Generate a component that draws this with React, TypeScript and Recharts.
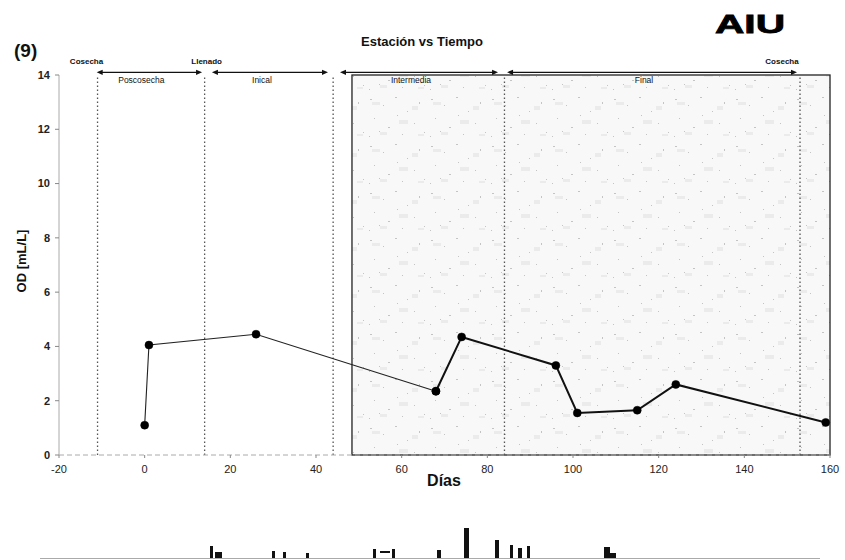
import React from 'react';
import {
  LineChart,
  Line,
  XAxis,
  YAxis,
  ReferenceLine,
  ReferenceArea,
} from 'recharts';

// sampling days and measured OD
const days = [0, 1, 26, 68, 74, 96, 101, 115, 124, 159];
const odValues = [1.1, 4.05, 4.45, 2.35, 4.35, 3.3, 1.55, 1.65, 2.6, 1.2];
// from this day on the trace is drawn heavier
const heavyFrom = 68;

const xTicks = [-20, 0, 20, 40, 60, 80, 100, 120, 140, 160];
const yTicks = [0, 2, 4, 6, 8, 10, 12, 14];

// crop events (dotted verticals)
const eventDays = [-11, 14, 44, 84, 153];
const eventNames = ['Cosecha', 'Llenado', '', '', 'Cosecha'];
const eventLabelShift = [-11, 2, 0, 0, -18];

// station phases (arrows along the top)
const phaseNames = ['Poscosecha', 'Inical', 'Intermedia', 'Final'];
const phaseStarts = [-11.2, 15.7, 45.6, 84.6];
const phaseEnds = [13.4, 42.8, 82.5, 152.3];

// start of the sampled station window (shaded box)
const stationStart = 48.4;

const FONT = '"Liberation Sans", Arial, sans-serif';
const NARROW = '"Liberation Sans Narrow", "Arial Narrow", "Liberation Sans", Arial, sans-serif';

const chartData = days.map((d, i) => ({
  day: d,
  thin: d <= heavyFrom ? odValues[i] : null,
  heavy: d >= heavyFrom ? odValues[i] : null,
}));

const PhaseArrow = (props: any) => {
  const { x1, x2, y1, name } = props;
  const h = 6;
  const w = 2.6;
  return (
    <g>
      <line x1={x1 + 3} y1={y1} x2={x2 - 3} y2={y1} stroke="#111" strokeWidth={1.3} />
      <polygon points={`${x1},${y1} ${x1 + h},${y1 - w} ${x1 + h},${y1 + w}`} fill="#111" />
      <polygon points={`${x2},${y1} ${x2 - h},${y1 - w} ${x2 - h},${y1 + w}`} fill="#111" />
      <text
        x={(x1 + x2) / 2 - 8}
        y={y1 + 11}
        textAnchor="middle"
        fontSize={8.5}
        fontFamily={FONT}
        fill="#111"
        stroke="none"
      >
        {name}
      </text>
    </g>
  );
};

const EventLabel = (props: any) => {
  const { viewBox, text, shift } = props;
  if (!text || !viewBox) return null;
  return (
    <text
      x={viewBox.x + shift}
      y={viewBox.y - 11}
      textAnchor="middle"
      fontSize={8}
      fontWeight="bold"
      fontFamily={FONT}
      fill="#111"
    >
      {text}
    </text>
  );
};

// speckled fill used for the station window
const StippleBox = (props: any) => {
  const { x, y, width, height } = props;
  const specks = [
    [4, 5, 2, 1], [17, 11, 1, 1], [29, 3, 2, 1], [41, 17, 1, 1], [53, 8, 1, 2],
    [8, 24, 1, 1], [22, 33, 2, 1], [36, 40, 1, 1], [48, 29, 1, 1], [3, 42, 1, 1],
    [31, 21, 1, 1], [58, 38, 1, 1], [13, 37, 1, 1],
  ];
  const blobs = [
    [6, 8, 8, 3], [33, 26, 9, 4], [46, 12, 6, 4], [14, 38, 7, 3], [52, 40, 6, 2],
  ];
  return (
    <g>
      <defs>
        <pattern id="stipple" width={61} height={47} patternUnits="userSpaceOnUse">
          {blobs.map(([bx, by, bw, bh], i) => (
            <rect key={`b${i}`} x={bx} y={by} width={bw} height={bh} fill="#ebebeb" />
          ))}
          {specks.map(([sx, sy, sw, sh], i) => (
            <rect key={`s${i}`} x={sx} y={sy} width={sw} height={sh} fill="#c4c4c4" />
          ))}
        </pattern>
      </defs>
      <rect x={x} y={y} width={width} height={height} fill="#f8f8f8" />
      <rect x={x} y={y} width={width} height={height} fill="url(#stipple)" />
      <rect x={x} y={y} width={width} height={height} fill="none" stroke="#222" strokeWidth={1.3} />
    </g>
  );
};

// stray print marks along the lower edge of the page
const strayMarks = [
  [210, 546, 3, 12], [215, 552, 7, 6], [272, 551, 3, 7], [283, 552, 3, 6],
  [306, 553, 3, 5], [373, 549, 3, 9], [380, 551, 10, 2], [392, 549, 3, 9],
  [437, 550, 4, 8], [464, 528, 5, 30], [495, 540, 4, 18], [510, 545, 3, 13],
  [518, 548, 4, 10], [527, 546, 3, 12], [604, 547, 6, 11], [610, 553, 6, 5],
];

export default function App() {
  return (
    <div style={{ position: 'absolute', left: 0, top: 0, width: 845, height: 560, background: '#fff' }}>
      <LineChart
        width={845}
        height={560}
        data={chartData}
        margin={{ top: 75, right: 15, bottom: 85, left: 0 }}
      >
        <XAxis
          dataKey="day"
          type="number"
          domain={[-20, 160]}
          ticks={xTicks}
          height={20}
          axisLine={{ stroke: '#aaa', strokeDasharray: '5 3' }}
          tickLine={{ stroke: '#888' }}
          tickSize={3}
          tick={{ fontSize: 11, fill: '#222', fontFamily: NARROW }}
          tickMargin={7}
        />
        <YAxis
          type="number"
          domain={[0, 14]}
          ticks={yTicks}
          width={59}
          axisLine={{ stroke: '#aaa' }}
          tickLine={{ stroke: '#888' }}
          tickSize={4}
          tick={{ fontSize: 11, fill: '#222', fontFamily: NARROW, fontWeight: 'bold' }}
          tickMargin={5}
        />
        <ReferenceArea
          x1={stationStart}
          x2={160}
          y1={0}
          y2={14}
          ifOverflow="visible"
          shape={(p: any) => <StippleBox {...p} />}
        />
        {eventDays.map((d, i) => (
          <ReferenceLine
            key={`ev${i}`}
            x={d}
            stroke="#555"
            strokeWidth={1.3}
            strokeDasharray="1.5 2.5"
            ifOverflow="visible"
            label={<EventLabel text={eventNames[i]} shift={eventLabelShift[i]} />}
          />
        ))}
        {phaseNames.map((n, i) => (
          <ReferenceLine
            key={`ph${i}`}
            segment={[
              { x: phaseStarts[i], y: 14.1 },
              { x: phaseEnds[i], y: 14.1 },
            ]}
            ifOverflow="visible"
            shape={(p: any) => <PhaseArrow {...p} name={n} />}
          />
        ))}
        <Line
          dataKey="thin"
          type="linear"
          stroke="#222"
          strokeWidth={1.1}
          dot={{ r: 4, fill: '#000', stroke: '#000', strokeWidth: 0.5 }}
          isAnimationActive={false}
        />
        <Line
          dataKey="heavy"
          type="linear"
          stroke="#111"
          strokeWidth={2}
          dot={{ r: 4, fill: '#000', stroke: '#000', strokeWidth: 0.5 }}
          isAnimationActive={false}
        />
      </LineChart>
      <svg
        width={845}
        height={560}
        style={{ position: 'absolute', left: 0, top: 0, pointerEvents: 'none' }}
      >
        <text x={14} y={57} fontSize={19} fontWeight="bold" fontFamily={FONT} fill="#111">
          (9)
        </text>
        <text x={422} y={46} textAnchor="middle" fontSize={13} fontWeight="bold" fontFamily={FONT} fill="#111">
          Estación vs Tiempo
        </text>
        <text
          x={715}
          y={33}
          fontSize={26}
          fontWeight="bold"
          fontFamily={FONT}
          fill="#000"
          stroke="#000"
          strokeWidth={0.8}
          textLength={70}
          lengthAdjust="spacingAndGlyphs"
        >
          AIU
        </text>
        <text
          x={0}
          y={0}
          transform="translate(26, 261) rotate(-90)"
          textAnchor="middle"
          fontSize={13}
          fontWeight="bold"
          fontFamily={FONT}
          fill="#111"
        >
          OD [mL/L]
        </text>
        <text x={444} y={486} textAnchor="middle" fontSize={16} fontWeight="bold" fontFamily={NARROW} fill="#111">
          Días
        </text>
        <line x1={40} y1={558.5} x2={820} y2={558.5} stroke="#aaa" strokeWidth={1} />
        {strayMarks.map(([mx, my, mw, mh], i) => (
          <rect key={i} x={mx} y={my} width={mw} height={mh} fill="#111" />
        ))}
      </svg>
    </div>
  );
}
